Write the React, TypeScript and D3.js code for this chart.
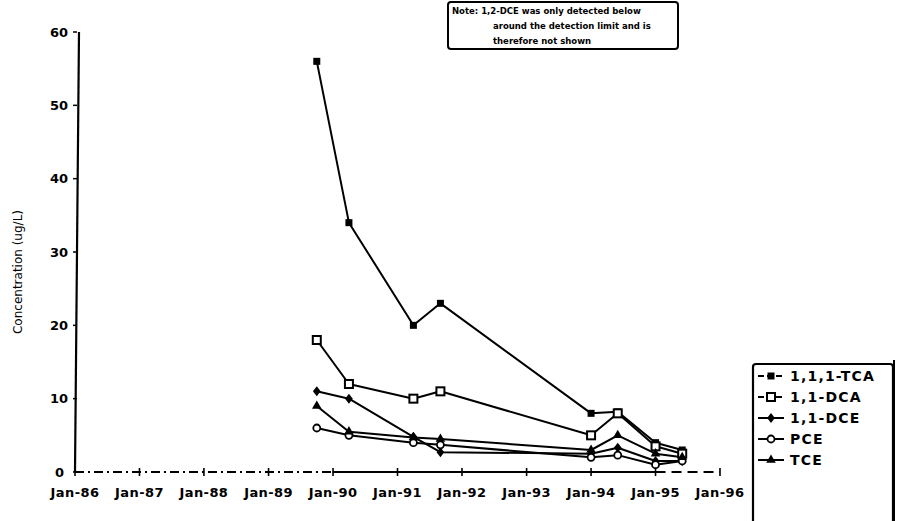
import React from "react";
import * as d3 from "d3";

const sampleDates = ["1989-10-01", "1990-04-01", "1991-04-01", "1991-09-01", "1994-01-01", "1994-06-01", "1995-01-01", "1995-06-01"];
const tca = [56, 34, 20, 23, 8, 8.2, 4, 3];
const dca = [18, 12, 10, 11, 5, 8, 3.5, 2.5];
const dce = [11, 10, 4.8, 2.7, 2.5, 3.3, 1.5, 1.5];
const pce = [6, 5, 4, 3.7, 2, 2.3, 1, 1.5];
const tce = [9, 5.5, 4.7, 4.5, 3, 5, 2.5, 2];
const seriesNames = ["1,1,1-TCA", "1,1-DCA", "1,1-DCE", "PCE", "TCE"];
const xTickLabels = ["Jan-86", "Jan-87", "Jan-88", "Jan-89", "Jan-90", "Jan-91", "Jan-92", "Jan-93", "Jan-94", "Jan-95", "Jan-96"];
const yTicks = [0, 10, 20, 30, 40, 50, 60];
const noteLines = ["Note: 1,2-DCE was only detected below", "around the detection limit and is", "therefore not shown"];

const W = 897, H = 521;
const FONT = "'DejaVu Sans', sans-serif";

type Kind = "fsq" | "osq" | "dia" | "ocir" | "tri";
const kinds: Kind[] = ["fsq", "osq", "dia", "ocir", "tri"];
const values = [tca, dca, dce, pce, tce];

function Marker({ kind, x, y }: { kind: Kind; x: number; y: number }) {
  switch (kind) {
    case "fsq":
      return <rect x={x - 3.5} y={y - 3.5} width={7} height={7} fill="#000" />;
    case "osq":
      return <rect x={x - 4} y={y - 4} width={8} height={8} fill="#fff" stroke="#000" strokeWidth={2} />;
    case "dia":
      return <path d={d3.symbol(d3.symbolDiamond, 36)()!} transform={`translate(${x},${y}) scale(1.2,0.9)`} fill="#000" />;
    case "ocir":
      return <circle cx={x} cy={y} r={3.5} fill="#fff" stroke="#000" strokeWidth={1.8} />;
    case "tri":
      return <path d={d3.symbol(d3.symbolTriangle, 40)()!} transform={`translate(${x},${y})`} fill="#000" />;
  }
}

export default function App() {
  const parse = d3.timeParse("%Y-%m-%d");
  const dates = sampleDates.map((s) => parse(s)!);
  const x = d3.scaleTime().domain([new Date(1986, 0, 1), new Date(1996, 0, 1)]).range([75, 720]);
  const y = d3.scaleLinear().domain([0, 60]).range([472, 32]);
  const tickDates = xTickLabels.map((_, i) => new Date(1986 + i, 0, 1));
  const line = d3
    .line<number>()
    .x((_, i) => x(dates[i]))
    .y((v) => y(v));

  return (
    <svg width={W} height={H} style={{ position: "absolute", left: 0, top: 0, background: "#fff" }} fontFamily={FONT}>
      <rect x={0} y={0} width={W} height={H} fill="#fff" />
      {/* Y axis */}
      <line x1={79} y1={y(60)} x2={75} y2={y(0)} stroke="#000" strokeWidth={2.2} />
      {yTicks.map((t) => (
        <g key={t}>
          <line x1={73} x2={77} y1={y(t)} y2={y(t)} stroke="#000" strokeWidth={1.5} />
          <text x={t === 0 ? 64 : 68} y={y(t)} dy="0.35em" textAnchor="end" fontSize={13} fontWeight="bold">
            {t}
          </text>
        </g>
      ))}
      <text transform="translate(22,272) rotate(-90)" textAnchor="middle" fontSize={12}>
        Concentration (ug/L)
      </text>
      {/* X axis */}
      <line x1={x(tickDates[0])} x2={x(tickDates[4])} y1={y(0)} y2={y(0)} stroke="#000" strokeWidth={2} strokeDasharray="9 4 2 4" />
      <line x1={x(tickDates[4])} x2={x(tickDates[9])} y1={y(0)} y2={y(0)} stroke="#000" strokeWidth={2} />
      <line x1={x(tickDates[9])} x2={x(tickDates[10])} y1={y(0)} y2={y(0)} stroke="#000" strokeWidth={2} strokeDasharray="10 6" />
      {tickDates.map((d, i) => (
        <g key={i}>
          <line x1={x(d)} x2={x(d)} y1={y(0) - 4} y2={y(0) + 4} stroke="#000" strokeWidth={1.6} />
          <text x={x(d)} y={497} textAnchor="middle" fontSize={13} fontWeight="bold" letterSpacing={0.4}>
            {xTickLabels[i]}
          </text>
        </g>
      ))}
      {/* Series */}
      {values.map((vals, si) => (
        <path key={si} d={line(vals)!} fill="none" stroke="#000" strokeWidth={2} strokeLinejoin="round" />
      ))}
      {values.map((vals, si) =>
        vals.map((v, i) => <Marker key={`${si}-${i}`} kind={kinds[si]} x={x(dates[i])} y={y(v)} />)
      )}
      {/* Note box */}
      <rect x={448} y={2} width={230} height={47} rx={3} fill="#fff" stroke="#000" strokeWidth={2} />
      {noteLines.map((t, i) => (
        <text key={i} x={i === 0 ? 452 : 493} y={14 + i * 15} fontSize={8.5} fontWeight="bold">
          {t}
        </text>
      ))}
      {/* Legend */}
      <rect x={753} y={364} width={140} height={160} rx={3} fill="#fff" stroke="#000" strokeWidth={2.2} />
      <line x1={894} x2={894} y1={360} y2={521} stroke="#000" strokeWidth={2} />
      {seriesNames.map((name, i) => {
        const ly = 376 + i * 21;
        return (
          <g key={name}>
            <line x1={758} x2={784} y1={ly} y2={ly} stroke="#000" strokeWidth={2} strokeDasharray={i < 2 ? "6 3" : undefined} />
            <Marker kind={kinds[i]} x={771} y={ly} />
            <text x={790} y={ly} dy="0.35em" fontSize={14} fontWeight="bold" letterSpacing={1.2}>
              {name}
            </text>
          </g>
        );
      })}
    </svg>
  );
}
